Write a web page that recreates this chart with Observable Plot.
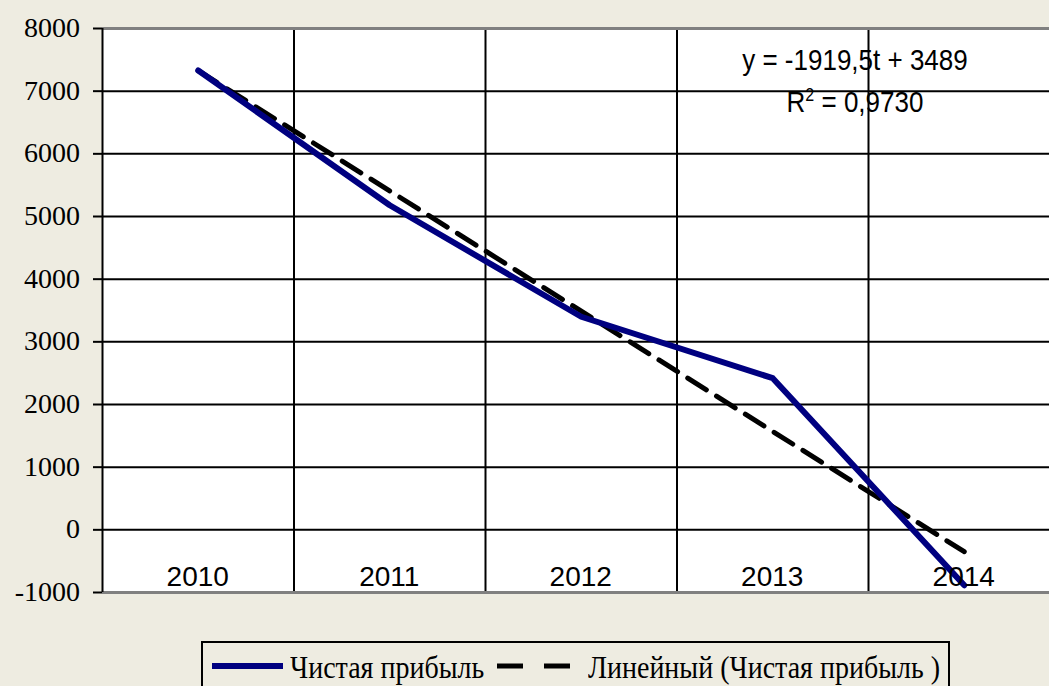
<!DOCTYPE html>
<html>
<head>
<meta charset="utf-8">
<script src="https://cdn.jsdelivr.net/npm/d3@7"></script>
<script src="https://cdn.jsdelivr.net/npm/@observablehq/plot@0.6"></script>
<style>
  html, body { margin: 0; padding: 0; background: #eeece1; }
  #chart { position: relative; width: 1049px; height: 686px; overflow: hidden; }
  #chart svg { display: block; }
  .lbl { position: absolute; white-space: nowrap; color: #000; }
  .serif { font-family: "Liberation Serif", "Times New Roman", serif; font-size: 28px; line-height: 28px; }
  .sans { font-family: "Liberation Sans", Arial, sans-serif; font-size: 28px; line-height: 28px; }
  .eq { font-family: "Liberation Sans", Arial, sans-serif; font-size: 26px; line-height: 26px; transform: translateX(-50%) scaleY(1.1); transform-origin: 50% 22px; }
  .eq sup { font-size: 16px; line-height: 0; vertical-align: 10px; }
  .legend { position: absolute; left: 201px; top: 641px; width: 749px; height: 60px;
    border: 2px solid #000; background: #eeece1; box-sizing: border-box; }
  .legend svg { position: absolute; }
  .legend span { position: absolute; top: 12px; line-height: 28px;
    font-family: "Liberation Serif", "Times New Roman", serif; font-size: 28px; color: #000; white-space: nowrap;
    transform: scaleY(1.14); transform-origin: 0 23px; }
</style>
</head>
<body>
<div id="chart"></div>
<script>
const years = [2010, 2011, 2012, 2013, 2014];
const profit = [7330, 5180, 3400, 2420, -885];
const yTicks = [-1000, 0, 1000, 2000, 3000, 4000, 5000, 6000, 7000, 8000];
const seriesName = "Чистая прибыль";
const trendName = "Линейный (Чистая прибыль )";
const equationText = "y = -1919,5t + 3489";
const r2Value = "0,9730";

const rows = years.map((year, i) => ({year, value: profit[i]}));
const bandEdges = years.map(y => y - 0.5);

const plot = Plot.plot({
  width: 1049,
  height: 602,
  marginLeft: 102,
  marginRight: 0,
  marginTop: 28,
  marginBottom: 10,
  style: {background: "transparent", color: "#000", overflow: "visible"},
  x: {type: "linear", domain: [2009.5, 2009.5 + 947 / 191.5], axis: null},
  y: {domain: [-1000, 8000], axis: null},
  marks: [
    Plot.frame({fill: "#fff", stroke: null}),
    Plot.gridY(yTicks, {stroke: "#000", strokeOpacity: 1, strokeWidth: 2}),
    Plot.ruleX(bandEdges.slice(1), {stroke: "#000", strokeWidth: 2}),
    Plot.ruleY([yTicks[0], yTicks[yTicks.length - 1]], {stroke: "#808080", strokeWidth: 3}),
    Plot.ruleX(bandEdges.slice(0, 1), {stroke: "#000", strokeWidth: 2}),
    Plot.axisY({ticks: yTicks, tickSize: 9, strokeWidth: 2, label: null, tickFormat: () => ""}),
    Plot.linearRegressionY(rows, {x: "year", y: "value", stroke: "#000", strokeWidth: 5,
      strokeDasharray: "22,12", ci: 0}),
    Plot.line(rows, {x: "year", y: "value", stroke: "#000080", strokeWidth: 6, strokeLinejoin: "round"})
  ]
});

const chart = document.getElementById("chart");
chart.appendChild(plot);

const xs = plot.scale("x"), ys = plot.scale("y");
const addLabel = (cls, html, css) => {
  const el = document.createElement("div");
  el.className = "lbl " + cls;
  el.innerHTML = html;
  Object.assign(el.style, css);
  chart.appendChild(el);
  return el;
};

// y tick labels (serif), right-aligned next to the ticks
yTicks.forEach(v => addLabel("serif", String(v), {
  right: (1049 - (xs.range[0] - 22)) + "px",
  top: (ys.apply(v) - 14) + "px"
}));

// category labels inside the plot, at the bottom
years.forEach(yr => addLabel("sans", String(yr), {
  left: xs.apply(yr) + "px",
  top: (ys.range[0] - 29) + "px",
  transform: "translateX(-50%)"
}));

// trend equation
addLabel("eq", equationText, {left: "855px", top: "48px"});
addLabel("eq", `R<sup>2</sup> = ${r2Value}`, {left: "855px", top: "90px"});

const legend = document.createElement("div");
legend.className = "legend";
legend.innerHTML = `
  <svg style="left:9px;top:18px" width="71" height="10"><line x1="0" x2="71" y1="5" y2="5" stroke="#000080" stroke-width="6"/></svg>
  <span style="left:87px">${seriesName}</span>
  <svg style="left:294px;top:18px" width="73" height="10"><line x1="0" x2="73" y1="5" y2="5" stroke="#000" stroke-width="5" stroke-dasharray="26,21"/></svg>
  <span style="left:385px">${trendName}</span>`;
chart.appendChild(legend);
</script>
</body>
</html>
